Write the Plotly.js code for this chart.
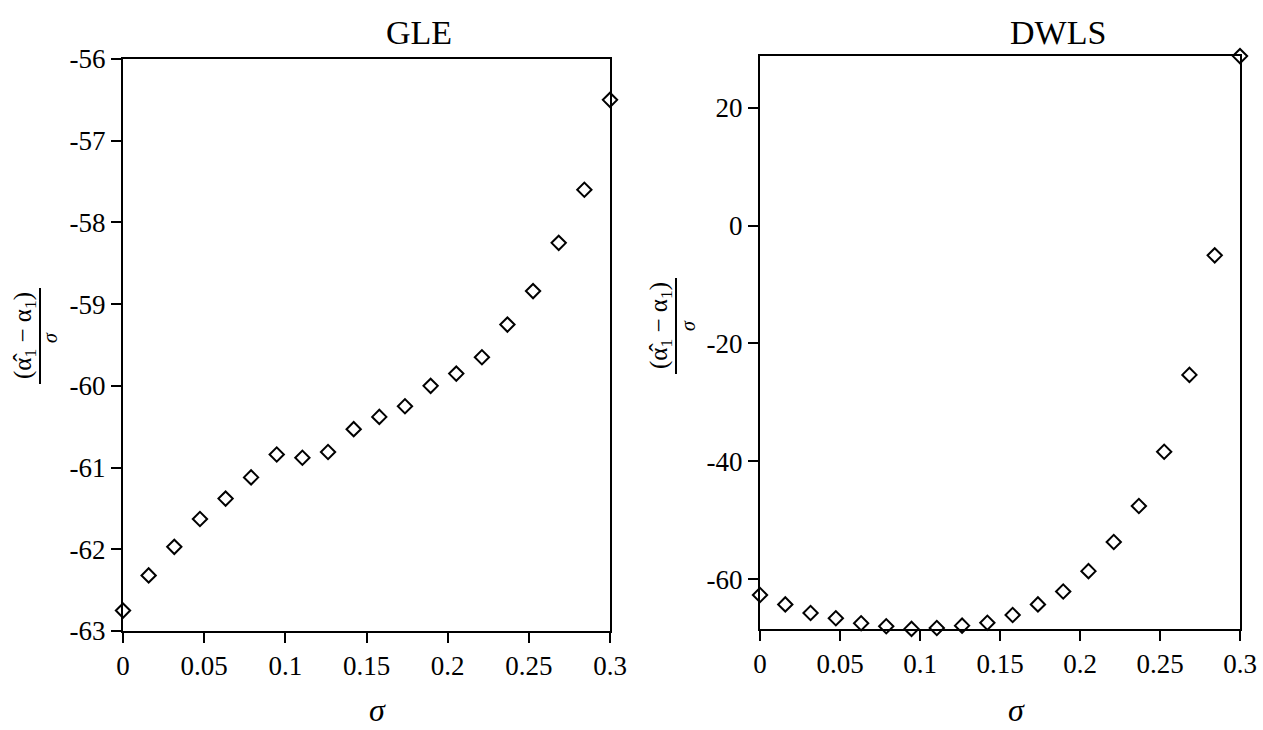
<!DOCTYPE html>
<html>
<head>
<meta charset="utf-8">
<script src="https://cdn.plot.ly/plotly-3.0.1.min.js"></script>
<style>html,body{margin:0;padding:0;background:#fff;}#chart{width:1263px;height:730px;}</style>
</head>
<body>
<div id="chart"></div>
<script>
// sigma values (x)
const sigma = [0, 0.0158, 0.0316, 0.0474, 0.0632, 0.0789, 0.0947, 0.1105, 0.1263, 0.1421,
               0.1579, 0.1737, 0.1895, 0.2053, 0.2211, 0.2368, 0.2526, 0.2684, 0.2842, 0.3];
// GLE series
const gle = [-62.75, -62.32, -61.97, -61.63, -61.38, -61.12, -60.84, -60.88, -60.81, -60.53,
             -60.38, -60.25, -60.0, -59.85, -59.65, -59.25, -58.84, -58.25, -57.6, -56.5];
// DWLS series
const dwls = [-62.7, -64.3, -65.75, -66.65, -67.5, -68.0, -68.45, -68.3, -67.9, -67.4,
              -66.1, -64.3, -62.1, -58.65, -53.7, -47.6, -38.4, -25.35, -5.06, 28.75];

// tick values / labels
const xTickVals = [0, 0.05, 0.1, 0.15, 0.2, 0.25, 0.3];
const xTickText = ["0", "0.05", "0.1", "0.15", "0.2", "0.25", "0.3"];
const gleTickVals = [-63, -62, -61, -60, -59, -58, -57, -56];
const gleTickText = ["-63", "-62", "-61", "-60", "-59", "-58", "-57", "-56"];
const dwlsTickVals = [-60, -40, -20, 0, 20];
const dwlsTickText = ["-60", "-40", "-20", "0", "20"];

const titles = ["GLE", "DWLS"];
const xTitle = "σ";
const yNumerator = "(α̂<sub>1</sub> − α<sub>1</sub>)";
const yDenominator = "σ";

const W = 1263, H = 730;
const px = v => v / W;
const py = v => 1 - v / H;

const FONT = "Liberation Serif, Times New Roman, serif";
const marker = {symbol: "diamond-open", size: 11, color: "#000", line: {width: 2, color: "#000"}};

const traces = [
  {x: sigma, y: gle, type: "scatter", mode: "markers", marker: marker, xaxis: "x", yaxis: "y", cliponaxis: false, hoverinfo: "x+y"},
  {x: sigma, y: dwls, type: "scatter", mode: "markers", marker: marker, xaxis: "x2", yaxis: "y2", cliponaxis: false, hoverinfo: "x+y"}
];

const axisCommon = {
  showgrid: false, zeroline: false, showline: true, linecolor: "#000", linewidth: 2,
  mirror: true, ticks: "outside", ticklen: 10, tickwidth: 2, tickcolor: "#000",
  tickfont: {family: FONT, size: 27, color: "#000"}, fixedrange: true
};

const layout = {
  width: W, height: H,
  font: {family: FONT, size: 27, color: "#000"},
  margin: {l: 0, r: 0, t: 0, b: 0},
  paper_bgcolor: "#fff", plot_bgcolor: "#fff",
  showlegend: false,
  xaxis: Object.assign({}, axisCommon, {domain: [px(123), px(610)], range: [0, 0.3], anchor: "y",
    tickmode: "array", tickvals: xTickVals, ticktext: xTickText}),
  yaxis: Object.assign({}, axisCommon, {domain: [py(631), py(59)], range: [-63, -56], anchor: "x",
    tickmode: "array", tickvals: gleTickVals, ticktext: gleTickText}),
  xaxis2: Object.assign({}, axisCommon, {domain: [px(760), px(1240)], range: [0, 0.3], anchor: "y2",
    tickmode: "array", tickvals: xTickVals, ticktext: xTickText}),
  yaxis2: Object.assign({}, axisCommon, {domain: [py(629), py(56)], range: [-68.47, 28.77], anchor: "x2",
    tickmode: "array", tickvals: dwlsTickVals, ticktext: dwlsTickText}),
  annotations: [
    {text: titles[0], xref: "paper", yref: "paper", x: px(419), y: py(33), xanchor: "center", yanchor: "middle",
     showarrow: false, font: {family: FONT, size: 34, color: "#000"}},
    {text: titles[1], xref: "paper", yref: "paper", x: px(1058), y: py(33), xanchor: "center", yanchor: "middle",
     showarrow: false, font: {family: FONT, size: 34, color: "#000"}},
    {text: "<i>" + xTitle + "</i>", xref: "paper", yref: "paper", x: px(377), y: py(710), xanchor: "center", yanchor: "middle",
     showarrow: false, font: {family: FONT, size: 32, color: "#000"}},
    {text: "<i>" + xTitle + "</i>", xref: "paper", yref: "paper", x: px(1016), y: py(710), xanchor: "center", yanchor: "middle",
     showarrow: false, font: {family: FONT, size: 32, color: "#000"}},
    // left y title fraction
    {text: yNumerator, xref: "paper", yref: "paper", x: px(24), y: py(336), xanchor: "center", yanchor: "middle",
     textangle: -90, showarrow: false, font: {family: FONT, size: 25, color: "#000"}},
    {text: "<i>" + yDenominator + "</i>", xref: "paper", yref: "paper", x: px(50), y: py(338), xanchor: "center", yanchor: "middle",
     textangle: -90, showarrow: false, font: {family: FONT, size: 20, color: "#000"}},
    // right y title fraction
    {text: yNumerator, xref: "paper", yref: "paper", x: px(660), y: py(326), xanchor: "center", yanchor: "middle",
     textangle: -90, showarrow: false, font: {family: FONT, size: 25, color: "#000"}},
    {text: "<i>" + yDenominator + "</i>", xref: "paper", yref: "paper", x: px(688), y: py(326), xanchor: "center", yanchor: "middle",
     textangle: -90, showarrow: false, font: {family: FONT, size: 20, color: "#000"}}
  ],
  shapes: [
    {type: "line", xref: "paper", yref: "paper", x0: px(40), x1: px(40), y0: py(288), y1: py(384), line: {color: "#000", width: 2}},
    {type: "line", xref: "paper", yref: "paper", x0: px(676), x1: px(676), y0: py(278), y1: py(374), line: {color: "#000", width: 2}}
  ]
};

Plotly.newPlot("chart", traces, layout, {displayModeBar: false, staticPlot: true});
</script>
</body>
</html>
